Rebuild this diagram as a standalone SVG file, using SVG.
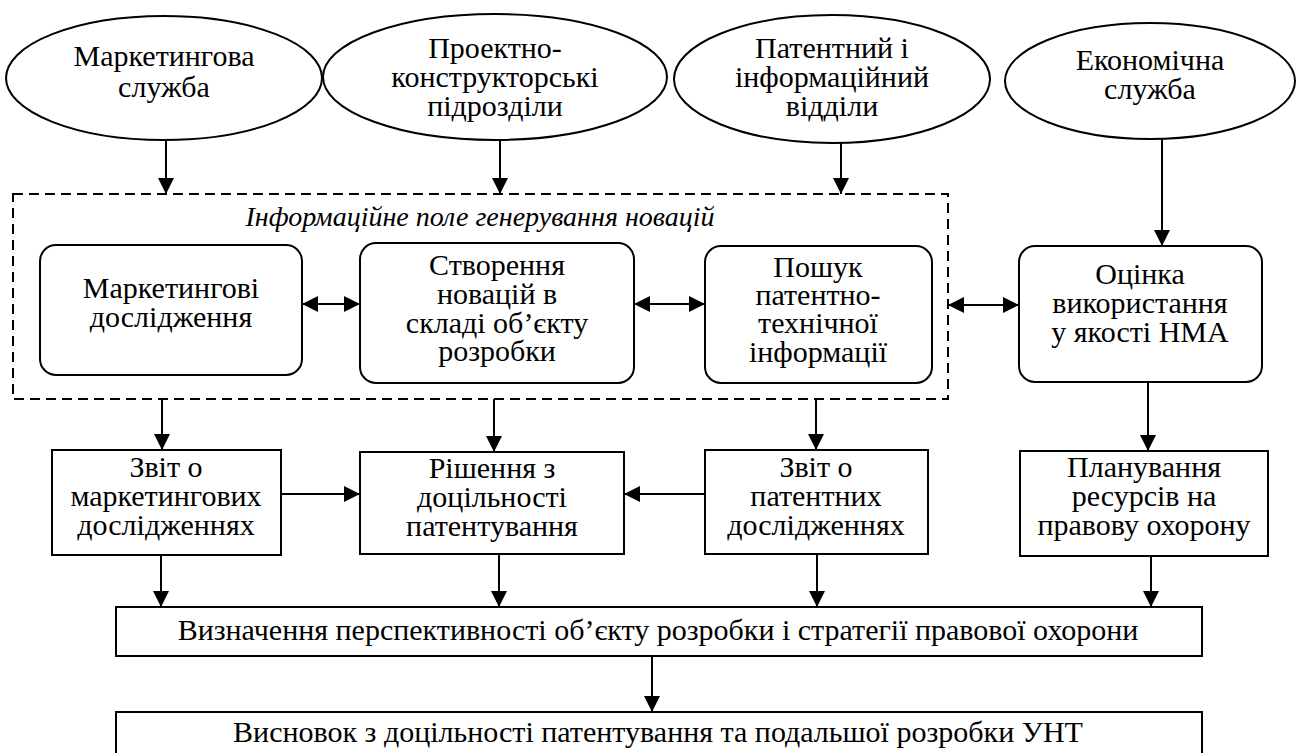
<svg xmlns="http://www.w3.org/2000/svg" width="1298" height="753" viewBox="0 0 1298 753">
<defs>
<marker id="ah" viewBox="0 0 16 16" refX="16" refY="8" markerWidth="16" markerHeight="16" markerUnits="userSpaceOnUse" orient="auto-start-reverse">
<path d="M0,0 L16,8 L0,16 z" fill="#000"/>
</marker>
</defs>
<rect width="1298" height="753" fill="#fff"/>
<g id="field">
<rect x="13" y="194" width="935" height="205" fill="none" stroke="#000" stroke-width="2" stroke-dasharray="10 6"/>
<text x="480" y="226" font-family="Liberation Serif" font-size="28" font-style="italic" text-anchor="middle">Інформаційне поле генерування новацій</text>
</g>
<g id="e1"><ellipse cx="164" cy="78" rx="158" ry="62" fill="#fff" stroke="#000" stroke-width="2"/>
<text x="164" y="66" font-family="Liberation Serif" font-size="30" text-anchor="middle">Маркетингова</text>
<text x="164" y="97" font-family="Liberation Serif" font-size="30" text-anchor="middle">служба</text></g>
<g id="e2"><ellipse cx="495" cy="77" rx="172" ry="63" fill="#fff" stroke="#000" stroke-width="2"/>
<text x="495" y="58" font-family="Liberation Serif" font-size="30" text-anchor="middle">Проектно-</text>
<text x="495" y="87" font-family="Liberation Serif" font-size="30" text-anchor="middle">конструкторські</text>
<text x="495" y="116" font-family="Liberation Serif" font-size="30" text-anchor="middle">підрозділи</text></g>
<g id="e3"><ellipse cx="832" cy="79" rx="158" ry="64" fill="#fff" stroke="#000" stroke-width="2"/>
<text x="832" y="58" font-family="Liberation Serif" font-size="30" text-anchor="middle">Патентний і</text>
<text x="832" y="87" font-family="Liberation Serif" font-size="30" text-anchor="middle">інформаційний</text>
<text x="832" y="116" font-family="Liberation Serif" font-size="30" text-anchor="middle">відділи</text></g>
<g id="e4"><ellipse cx="1150" cy="81" rx="145" ry="58" fill="#fff" stroke="#000" stroke-width="2"/>
<text x="1150" y="70" font-family="Liberation Serif" font-size="30" text-anchor="middle">Економічна</text>
<text x="1150" y="99" font-family="Liberation Serif" font-size="30" text-anchor="middle">служба</text></g>

<g id="b1"><rect x="40" y="245" width="262" height="130" rx="16" fill="#fff" stroke="#000" stroke-width="2"/>
<text x="171" y="298" font-family="Liberation Serif" font-size="30" text-anchor="middle">Маркетингові</text>
<text x="171" y="327" font-family="Liberation Serif" font-size="30" text-anchor="middle">дослідження</text></g>
<g id="b2"><rect x="360" y="243" width="274" height="140" rx="16" fill="#fff" stroke="#000" stroke-width="2"/>
<text x="497" y="275" font-family="Liberation Serif" font-size="30" text-anchor="middle">Створення</text>
<text x="497" y="304" font-family="Liberation Serif" font-size="30" text-anchor="middle">новацій в</text>
<text x="497" y="333" font-family="Liberation Serif" font-size="30" text-anchor="middle">складі об’єкту</text>
<text x="497" y="361" font-family="Liberation Serif" font-size="30" text-anchor="middle">розробки</text></g>
<g id="b3"><rect x="705" y="246" width="227" height="137" rx="16" fill="#fff" stroke="#000" stroke-width="2"/>
<text x="818" y="277" font-family="Liberation Serif" font-size="30" text-anchor="middle">Пошук</text>
<text x="818" y="305" font-family="Liberation Serif" font-size="30" text-anchor="middle">патентно-</text>
<text x="818" y="333" font-family="Liberation Serif" font-size="30" text-anchor="middle">технічної</text>
<text x="818" y="362" font-family="Liberation Serif" font-size="30" text-anchor="middle">інформації</text></g>
<g id="b4"><rect x="1019" y="246" width="243" height="136" rx="16" fill="#fff" stroke="#000" stroke-width="2"/>
<text x="1140" y="284" font-family="Liberation Serif" font-size="30" text-anchor="middle">Оцінка</text>
<text x="1140" y="313" font-family="Liberation Serif" font-size="30" text-anchor="middle">використання</text>
<text x="1140" y="342" font-family="Liberation Serif" font-size="30" text-anchor="middle">у якості НМА</text></g>

<g id="r1"><rect x="52" y="450" width="229" height="105" fill="#fff" stroke="#000" stroke-width="2"/>
<text x="166" y="477" font-family="Liberation Serif" font-size="30" text-anchor="middle">Звіт о</text>
<text x="166" y="506" font-family="Liberation Serif" font-size="30" text-anchor="middle">маркетингових</text>
<text x="166" y="535" font-family="Liberation Serif" font-size="30" text-anchor="middle">дослідженнях</text></g>
<g id="r2"><rect x="360" y="452" width="264" height="102" fill="#fff" stroke="#000" stroke-width="2"/>
<text x="492" y="478" font-family="Liberation Serif" font-size="30" text-anchor="middle">Рішення з</text>
<text x="492" y="507" font-family="Liberation Serif" font-size="30" text-anchor="middle">доцільності</text>
<text x="492" y="536" font-family="Liberation Serif" font-size="30" text-anchor="middle">патентування</text></g>
<g id="r3"><rect x="705" y="450" width="223" height="104" fill="#fff" stroke="#000" stroke-width="2"/>
<text x="816" y="477" font-family="Liberation Serif" font-size="30" text-anchor="middle">Звіт о</text>
<text x="816" y="506" font-family="Liberation Serif" font-size="30" text-anchor="middle">патентних</text>
<text x="816" y="535" font-family="Liberation Serif" font-size="30" text-anchor="middle">дослідженнях</text></g>
<g id="r4"><rect x="1020" y="451" width="248" height="105" fill="#fff" stroke="#000" stroke-width="2"/>
<text x="1144" y="477" font-family="Liberation Serif" font-size="30" text-anchor="middle">Планування</text>
<text x="1144" y="506" font-family="Liberation Serif" font-size="30" text-anchor="middle">ресурсів на</text>
<text x="1144" y="535" font-family="Liberation Serif" font-size="30" text-anchor="middle">правову охорону</text></g>

<g id="w1"><rect x="116" y="607" width="1086" height="49" fill="#fff" stroke="#000" stroke-width="2"/>
<text x="658" y="640" font-family="Liberation Serif" font-size="30" text-anchor="middle">Визначення перспективності об’єкту розробки і стратегії правової охорони</text></g>
<g id="w2"><rect x="116" y="712" width="1086" height="50" fill="#fff" stroke="#000" stroke-width="2"/>
<text x="658" y="742" font-family="Liberation Serif" font-size="30" text-anchor="middle">Висновок з доцільності патентування та подальшої розробки УНТ</text></g>

<g id="connectors" fill="none" stroke="#000" stroke-width="2" marker-end="url(#ah)">
<line x1="166" y1="140" x2="166" y2="194"/>
<line x1="500" y1="140" x2="500" y2="194"/>
<line x1="841" y1="143" x2="841" y2="194"/>
<line x1="1162" y1="139" x2="1162" y2="246"/>
<line x1="302" y1="304" x2="360" y2="304" marker-start="url(#ah)"/>
<line x1="634" y1="304" x2="705" y2="304" marker-start="url(#ah)"/>
<line x1="948" y1="305" x2="1019" y2="305" marker-start="url(#ah)"/>
<line x1="162" y1="399" x2="162" y2="450"/>
<line x1="494" y1="399" x2="494" y2="452"/>
<line x1="816" y1="399" x2="816" y2="450"/>
<line x1="1148" y1="382" x2="1148" y2="451"/>
<line x1="281" y1="494" x2="360" y2="494"/>
<line x1="705" y1="494" x2="624" y2="494"/>
<line x1="161" y1="555" x2="161" y2="607"/>
<line x1="499" y1="554" x2="499" y2="607"/>
<line x1="817" y1="554" x2="817" y2="607"/>
<line x1="1151" y1="556" x2="1151" y2="607"/>
<line x1="652" y1="656" x2="652" y2="712"/>
</g>
</svg>
